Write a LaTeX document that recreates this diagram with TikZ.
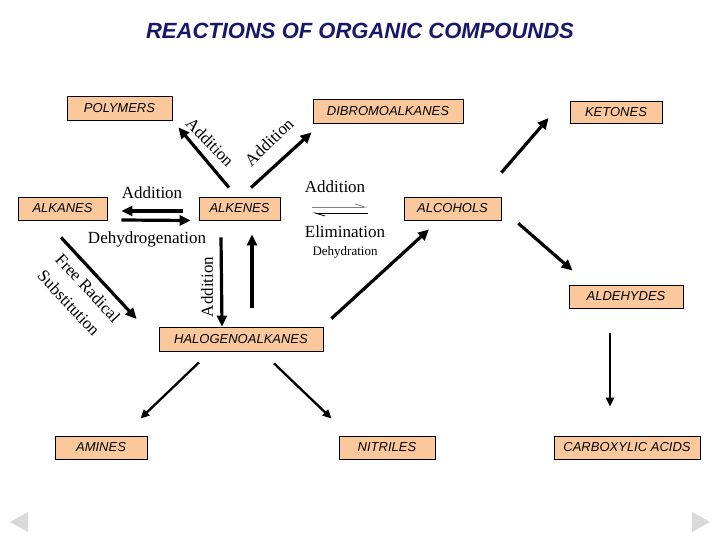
\documentclass[tikz,border=0pt]{standalone}
\usepackage{fontspec}
\setmainfont{Liberation Serif}
\setsansfont{Liberation Sans}
\usetikzlibrary{arrows.meta}
\definecolor{boxfill}{HTML}{FAC89A}
\definecolor{titleblue}{HTML}{17176B}
\definecolor{navgrey}{HTML}{D9D9D9}
\tikzstyle{compound}=[draw, fill=boxfill, line width=0.8pt, inner sep=0pt, font=\sffamily\itshape\fontsize{13}{15}\selectfont]
\tikzstyle{reaction}=[font=\fontsize{17}{20}\selectfont, inner sep=0pt]
\tikzstyle{bigarrow}=[line width=3.2pt, -{Triangle[length=11pt,width=10pt]}]
\tikzstyle{smallarrow}=[line width=2.3pt, -{Triangle[length=9pt,width=8pt]}]
\tikzstyle{harpoon}=[line width=0.8pt, -{Straight Barb[left,length=10pt,width=6pt]}]

\begin{document}
\begin{tikzpicture}[x=1pt, y=-1pt]
\useasboundingbox (0,0) rectangle (720,540);
\node[font=\sffamily\bfseries\itshape\fontsize{22}{25}\selectfont, text=titleblue] (Title) at (360,31) {REACTIONS OF ORGANIC COMPOUNDS};
\node[compound, minimum width=105pt, minimum height=24pt] (Polymers) at (119.5,108) {POLYMERS};
\node[compound, minimum width=150pt, minimum height=24pt] (Dibromo) at (388,111) {DIBROMOALKANES};
\node[compound, minimum width=92pt, minimum height=22pt] (Ketones) at (616,112.5) {KETONES};
\node[compound, minimum width=89pt, minimum height=23pt] (Alkanes) at (62.5,208.5) {ALKANES};
\node[compound, minimum width=81pt, minimum height=23pt] (Alkenes) at (239.5,208.5) {ALKENES};
\node[compound, minimum width=97pt, minimum height=23pt] (Alcohols) at (452.5,208.5) {ALCOHOLS};
\node[compound, minimum width=114pt, minimum height=23pt] (Aldehydes) at (626,296.5) {ALDEHYDES};
\node[compound, minimum width=164pt, minimum height=24pt] (Halogeno) at (241,339) {HALOGENOALKANES};
\node[compound, minimum width=92pt, minimum height=23pt] (Amines) at (101,447.5) {AMINES};
\node[compound, minimum width=96pt, minimum height=23pt] (Nitriles) at (387,447.5) {NITRILES};
\node[compound, minimum width=146pt, minimum height=23pt] (Carboxylic) at (627,447.5) {CARBOXYLIC ACIDS};
\node[reaction, rotate=-46] (AddPoly) at (210,142) {Addition};
\node[reaction, rotate=44] (AddDibromo) at (269,142) {Addition};
\node[reaction] (AddAlkanes) at (152,193) {Addition};
\node[reaction] (Dehydrogen) at (147,239) {Dehydrogenation};
\node[reaction, rotate=-47] (FreeRad) at (88,288) {Free Radical};
\node[reaction, rotate=-47] (Subst) at (69,303) {Substitution};
\node[reaction, rotate=90] (AddHalo) at (207,287) {Addition};
\node[reaction] (AddAlcohols) at (335,187) {Addition};
\node[reaction] (Elimination) at (345,232) {Elimination};
\node[reaction, font=\fontsize{13}{15}\selectfont] (Dehydration) at (345,252) {Dehydration};
\draw[bigarrow] ([xshift=-10.5pt,yshift=9pt]Alkenes.north) -- ([xshift=6pt,yshift=-7pt]Polymers.south east);
\draw[bigarrow] ([xshift=11.5pt,yshift=9pt]Alkenes.north) -- ([xshift=-1pt,yshift=-9pt]Dibromo.south west);
\draw[bigarrow] ([xshift=-16pt,yshift=-2.5pt]Alkenes.west) -- ([xshift=14pt,yshift=-2.5pt]Alkanes.east);
\draw[bigarrow] ([xshift=14pt,yshift=-11.5pt]Alkanes.east) -- ([xshift=-8pt,yshift=-12pt]Alkenes.west);
\draw[bigarrow] ([xshift=-18.5pt,yshift=-17pt]Alkenes.south) -- ([xshift=-19pt]Halogeno.north);
\draw[bigarrow] ([xshift=11pt,yshift=19pt]Halogeno.north) -- ([xshift=12.5pt,yshift=-14pt]Alkenes.south);
\draw[bigarrow] ([xshift=-1.5pt,yshift=-17pt]Alkanes.south) -- ([xshift=-22pt,yshift=20pt]Halogeno.west);
\draw[bigarrow] ([xshift=8pt,yshift=8pt]Halogeno.north east) -- ([xshift=-23.5pt,yshift=-9pt]Alcohols.south);
\draw[bigarrow] ([yshift=24pt]Alcohols.north east) -- ([xshift=-21pt,yshift=-5.5pt]Ketones.west);
\draw[bigarrow] ([xshift=17pt,yshift=-3pt]Alcohols.south east) -- ([xshift=4pt,yshift=14pt]Aldehydes.north west);
\draw[smallarrow] ([xshift=-16pt,yshift=-25pt]Aldehydes.south) -- ([xshift=-17pt,yshift=29pt]Carboxylic.north);
\draw[smallarrow] ([xshift=-42pt,yshift=-11pt]Halogeno.south) -- ([xshift=-7pt,yshift=17pt]Amines.north east);
\draw[smallarrow] ([xshift=33pt,yshift=-12pt]Halogeno.south) -- ([xshift=-7pt,yshift=17pt]Nitriles.north west);
\draw[harpoon, gray] ([xshift=32pt,yshift=1.5pt]Alkenes.east) -- ([xshift=-36pt,yshift=1.5pt]Alcohols.west);
\draw[harpoon] ([xshift=-36pt,yshift=-4.5pt]Alcohols.west) -- ([xshift=32pt,yshift=-4.5pt]Alkenes.east);
\fill[navgrey] (10,522) -- (28,512) -- (28,532) -- cycle;
\fill[navgrey] (710,522) -- (692,512) -- (692,532) -- cycle;
\end{tikzpicture}
\end{document}
